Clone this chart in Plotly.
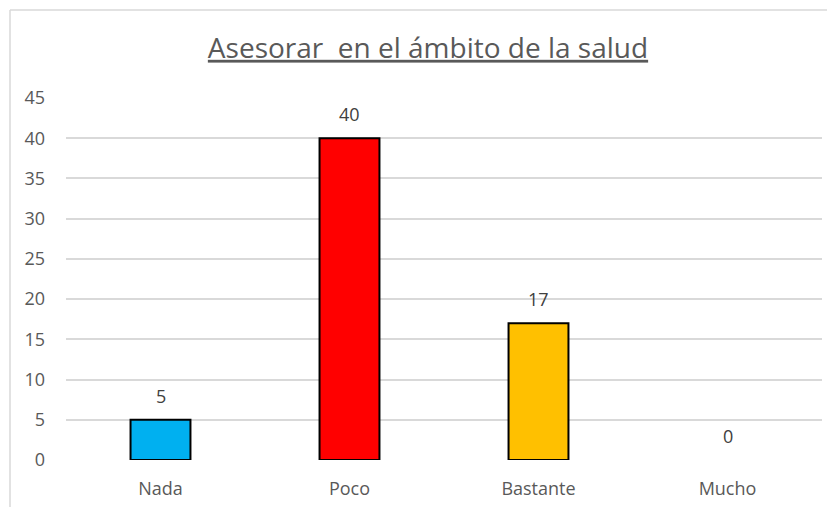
import plotly.graph_objects as go

categories = ["Nada", "Poco", "Bastante", "Mucho"]
values = [5, 40, 17, 0]
bar_colors = ["#00B0F0", "#FF0000", "#FFC000", "#A5A5A5"]
y_ticks = [0, 5, 10, 15, 20, 25, 30, 35, 40, 45]
title_text = "Asesorar  en el ámbito de la salud"

FONT = "Open Sans"
# page body has an 8px default margin; figure sized/placed to compensate
W, H = 827, 499
PL, PR, PT, PB = 58, 814, 90, 452

fig = go.Figure()
fig.add_trace(go.Bar(
    x=categories, y=values,
    marker=dict(color=bar_colors,
                line=dict(color="#000000",
                          width=[2 if v > 0 else 0 for v in values])),
    width=0.317,
    hoverinfo="skip",
))

for c, v in zip(categories, values):
    fig.add_annotation(x=c, y=v, text=str(v), showarrow=False,
                       yanchor="bottom", yshift=10,
                       font=dict(family=FONT, size=18, color="#404040"))

fx = lambda px: (px - PL) / (PR - PL)
fy = lambda py: (PB - py) / (PB - PT)

fig.update_layout(
    width=W, height=H,
    margin=dict(l=PL, r=W - PR, t=PT, b=H - PB, autoexpand=False),
    paper_bgcolor="white", plot_bgcolor="white",
    showlegend=False,
    title=dict(text="<u>" + title_text + "</u>", x=420 / W, xanchor="center",
               y=1 - 40 / H, yanchor="middle",
               font=dict(family=FONT, size=28, color="#595959")),
    xaxis=dict(showgrid=False, showline=False, zeroline=False, automargin=False,
               ticks="outside", ticklen=12, tickcolor="rgba(0,0,0,0)",
               tickfont=dict(family=FONT, size=18, color="#595959")),
    yaxis=dict(range=[0, 45], tickvals=y_ticks, showgrid=True, automargin=False,
               gridcolor="#D9D9D9", gridwidth=1.5, zeroline=False,
               showline=False, ticklabelstandoff=20,
               tickfont=dict(family=FONT, size=18, color="#595959")),
    shapes=[
        dict(type="line", xref="paper", yref="paper",
             x0=fx(2), x1=fx(W + 20), y0=fy(2), y1=fy(2),
             line=dict(color="#D9D9D9", width=1.5), layer="below"),
        dict(type="line", xref="paper", yref="paper",
             x0=fx(2), x1=fx(2), y0=fy(H + 20), y1=fy(2),
             line=dict(color="#D9D9D9", width=1.5), layer="below"),
    ],
)

fig.write_html("out.html")
